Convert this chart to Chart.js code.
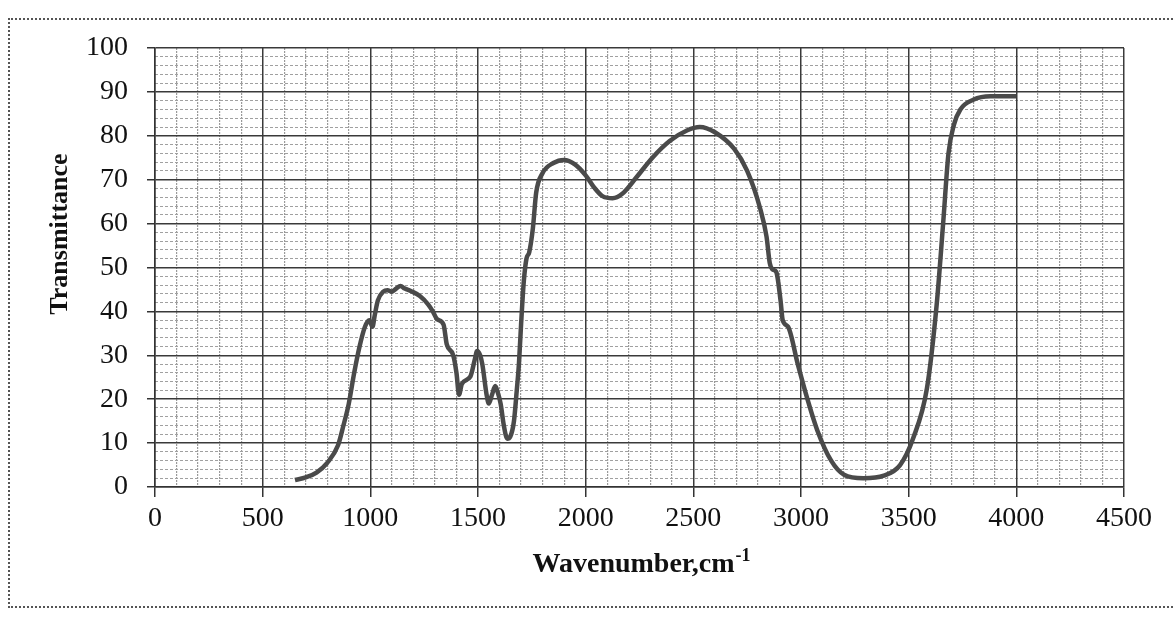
<!DOCTYPE html>
<html>
<head>
<meta charset="utf-8">
<script src="https://cdn.jsdelivr.net/npm/chart.js@4/dist/chart.umd.min.js"></script>
<style>
  html, body { margin: 0; padding: 0; background: #ffffff; }
  #wrap { position: relative; width: 1174px; height: 618px; overflow: hidden; }
  #frame { position: absolute; left: 8px; top: 18px; width: 1200px; height: 590px; border: 2px dotted #555; box-sizing: border-box; }
  canvas { position: absolute; left: 0; top: 0; }
</style>
</head>
<body>
<div id="wrap">
  <div id="frame"></div>
  <canvas id="c" width="1174" height="618"></canvas>
</div>
<script>
// ---- data ----
const wavenumber = [650, 700, 750, 800, 850, 875, 900, 925, 950, 975, 995, 1010, 1020, 1035, 1060, 1080, 1100, 1120, 1140, 1160, 1190, 1230, 1270, 1290, 1310, 1340, 1355, 1385, 1400, 1412, 1425, 1465, 1485, 1496, 1510, 1520, 1540, 1550, 1565, 1580, 1592, 1605, 1620, 1636, 1650, 1667, 1680, 1690, 1700, 1713, 1725, 1738, 1755, 1770, 1800, 1850, 1900, 1950, 2000, 2040, 2080, 2125, 2170, 2235, 2310, 2390, 2470, 2530, 2600, 2690, 2750, 2810, 2840, 2855, 2870, 2885, 2905, 2915, 2940, 2985, 3030, 3075, 3140, 3200, 3290, 3385, 3460, 3520, 3585, 3630, 3660, 3685, 3710, 3740, 3800, 3880, 4000];
const transmittance = [1.6, 2.2, 3.3, 5.5, 9.5, 14, 19, 26, 32, 36.5, 38, 36.5, 39, 42.5, 44.5, 44.8, 44.5, 45.2, 45.8, 45.2, 44.6, 43.5, 41.5, 40, 38.2, 37, 32.5, 30, 26, 21, 23.5, 25.2, 29, 31, 30, 28, 21, 19, 21, 23, 21.5, 19, 14, 11, 11.5, 15, 22, 28, 37, 47, 52, 53.5, 59, 67, 71.5, 73.8, 74.5, 73.5, 71, 68.2, 66.2, 65.8, 66.8, 70.5, 75, 78.8, 81.2, 82, 80.8, 77, 72, 63.5, 57, 51, 49.5, 49, 42.5, 38, 36.5, 28, 20, 13, 6, 2.8, 2, 2.6, 5, 11, 22.5, 41.5, 60, 76, 82.5, 86, 88.2, 89, 89];
const xTicks = [0, 500, 1000, 1500, 2000, 2500, 3000, 3500, 4000, 4500];
const yTicks = [0, 10, 20, 30, 40, 50, 60, 70, 80, 90, 100];
const xTitle = 'Wavenumber,cm';
const xTitleSup = '-1';
const yTitle = 'Transmittance';

const points = wavenumber.map((w, i) => ({ x: w, y: transmittance[i] }));

const titlePlugin = {
  id: 'titles',
  afterDraw(chart) {
    const ctx = chart.ctx;
    ctx.save();
    ctx.fillStyle = '#111';
    ctx.textBaseline = 'alphabetic';
    ctx.font = 'bold 28px "Liberation Serif", "Times New Roman", serif';
    const w1 = ctx.measureText(xTitle).width;
    ctx.font = 'bold 18px "Liberation Serif", "Times New Roman", serif';
    const w2 = ctx.measureText(xTitleSup).width;
    const cx = 641;
    const startX = cx - (w1 + w2) / 2;
    ctx.font = 'bold 28px "Liberation Serif", "Times New Roman", serif';
    ctx.textAlign = 'left';
    ctx.fillText(xTitle, startX, 572);
    ctx.font = 'bold 18px "Liberation Serif", "Times New Roman", serif';
    ctx.fillText(xTitleSup, startX + w1 + 1, 561);
    ctx.translate(67, 234);
    ctx.rotate(-Math.PI / 2);
    ctx.textAlign = 'center';
    ctx.font = 'bold 26px "Liberation Serif", "Times New Roman", serif';
    ctx.fillText(yTitle, 0, 0);
    ctx.restore();
  }
};

const tickFont = { family: '"Liberation Serif", "Times New Roman", serif', size: 28 };

new Chart(document.getElementById('c'), {
  type: 'line',
  data: {
    datasets: [{
      data: points,
      borderColor: '#4a4a4a',
      borderWidth: 4.5,
      pointRadius: 0,
      fill: false,
      cubicInterpolationMode: 'monotone',
      xAxisID: 'x',
      yAxisID: 'y'
    }]
  },
  options: {
    responsive: false,
    animation: false,
    devicePixelRatio: 1,
    layout: { padding: { left: 0, top: 48, right: 50, bottom: 0 } },
    plugins: { legend: { display: false }, tooltip: { enabled: false }, title: { display: false } },
    scales: {
      xm: {
        type: 'linear', position: 'bottom', min: 0, max: 4500,
        ticks: { display: false, stepSize: 100 },
        grid: {
          drawTicks: false,
          color: c => (c.tick && c.tick.value % 500 === 0) ? 'rgba(0,0,0,0)' : '#9a9a9a',
          lineWidth: 1.2
        },
        border: { display: false, dash: [2, 1] },
        afterFit: s => { s.height = 0; }
      },
      ym: {
        type: 'linear', position: 'left', min: 0, max: 100,
        ticks: { display: false, stepSize: 2 },
        grid: {
          drawTicks: false,
          color: c => (c.tick && c.tick.value % 10 === 0) ? 'rgba(0,0,0,0)' : '#a0a0a0',
          lineWidth: 1
        },
        border: { display: false, dash: [3, 2] },
        afterFit: s => { s.width = 0; }
      },
      x: {
        type: 'linear', position: 'bottom', min: 0, max: 4500,
        afterBuildTicks: s => { s.ticks = xTicks.map(v => ({ value: v })); },
        ticks: { color: '#111', font: tickFont, padding: 5, maxRotation: 0, autoSkip: false, callback: v => String(v) },
        grid: { color: '#3a3a3a', lineWidth: 1.5, drawTicks: true, tickLength: 10, tickColor: '#333' },
        border: { display: true, color: '#333', width: 1.5 },
        afterFit: s => { s.height = 131; }
      },
      y: {
        type: 'linear', position: 'left', min: 0, max: 100,
        afterBuildTicks: s => { s.ticks = yTicks.map(v => ({ value: v })); },
        ticks: { color: '#111', font: tickFont, padding: 19, autoSkip: false, callback: v => String(v) },
        grid: { color: '#3a3a3a', lineWidth: 1.5, drawTicks: true, tickLength: 8, tickColor: '#333' },
        border: { display: true, color: '#333', width: 1.5 },
        afterFit: s => { s.width = 155; }
      }
    }
  },
  plugins: [titlePlugin]
});
</script>
</body>
</html>
